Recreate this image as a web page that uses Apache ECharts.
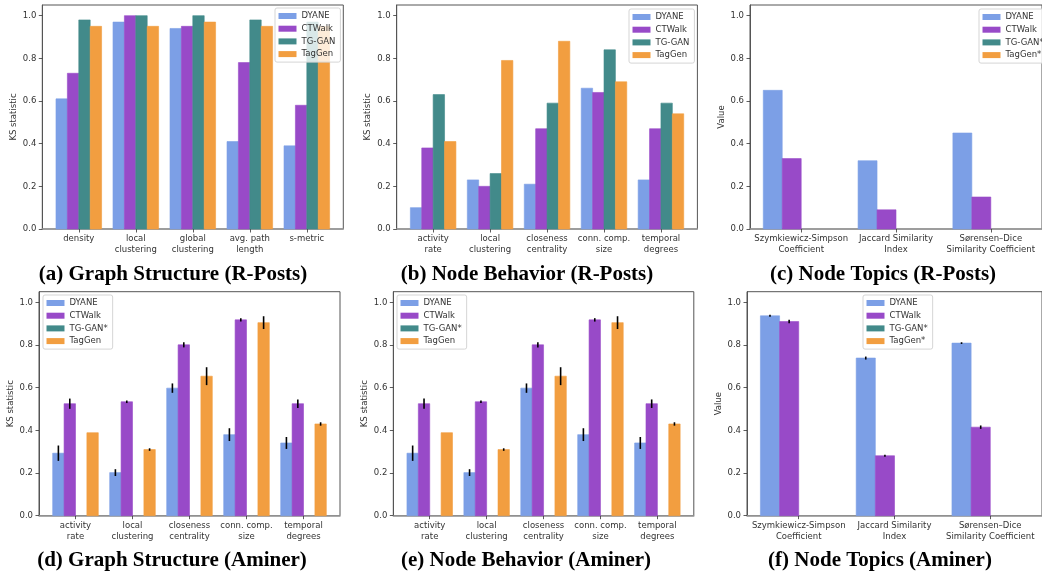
<!DOCTYPE html>
<html><head><meta charset="utf-8">
<script src="https://cdn.jsdelivr.net/npm/echarts@6/dist/echarts.min.js"></script>
<style>html,body{margin:0;padding:0;background:#fff}#c{width:1042px;height:577px}</style>
</head><body><div id="c"></div>
<script>
// ---------- data ----------
const catsA = ['density', 'local\nclustering', 'global\nclustering', 'avg. path\nlength', 's-metric'];
const catsB = ['activity\nrate', 'local\nclustering', 'closeness\ncentrality', 'conn. comp.\nsize', 'temporal\ndegrees'];
const catsC = ['Szymkiewicz-Simpson\nCoefficient', 'Jaccard Similarity\nIndex', 'Sørensen–Dice\nSimilarity Coefficient'];
const yTicks = [0, 0.2, 0.4, 0.6, 0.8, 1.0];

const namesA = ['DYANE', 'CTWalk', 'TG-GAN', 'TagGen'];
const namesC = ['DYANE', 'CTWalk', 'TG-GAN*', 'TagGen*'];
const namesD = ['DYANE', 'CTWalk', 'TG-GAN*', 'TagGen'];

// (a) Graph Structure (R-Posts)
const aDYANE  = [0.61, 0.97, 0.94, 0.41, 0.39];
const aCTWalk = [0.73, 1.00, 0.95, 0.78, 0.58];
const aTGGAN  = [0.98, 1.00, 1.00, 0.98, 0.97];
const aTagGen = [0.95, 0.95, 0.97, 0.95, 0.95];
// (b) Node Behavior (R-Posts)
const bDYANE  = [0.10, 0.23, 0.21, 0.66, 0.23];
const bCTWalk = [0.38, 0.20, 0.47, 0.64, 0.47];
const bTGGAN  = [0.63, 0.26, 0.59, 0.84, 0.59];
const bTagGen = [0.41, 0.79, 0.88, 0.69, 0.54];
// (c) Node Topics (R-Posts)
const cDYANE  = [0.65, 0.32, 0.45];
const cCTWalk = [0.33, 0.09, 0.15];
const cTGGAN  = [0, 0, 0];
const cTagGen = [0, 0, 0];
// (d) Graph Structure (Aminer)
const dDYANE     = [0.293, 0.202, 0.598, 0.380, 0.341];
const dDYANEErr  = [0.036, 0.016, 0.022, 0.030, 0.028];
const dCTWalk    = [0.525, 0.534, 0.801, 0.918, 0.525];
const dCTWalkErr = [0.024, 0.006, 0.012, 0.008, 0.020];
const dTGGAN     = [0, 0, 0, 0, 0];
const dTagGen    = [0.389, 0.310, 0.654, 0.905, 0.430];
const dTagGenErr = [0, 0.006, 0.042, 0.030, 0.008];
// (e) Node Behavior (Aminer)
const eDYANE     = [0.293, 0.202, 0.598, 0.380, 0.341];
const eDYANEErr  = [0.036, 0.016, 0.022, 0.030, 0.028];
const eCTWalk    = [0.525, 0.534, 0.801, 0.918, 0.525];
const eCTWalkErr = [0.024, 0.006, 0.012, 0.008, 0.020];
const eTGGAN     = [0, 0, 0, 0, 0];
const eTagGen    = [0.389, 0.310, 0.654, 0.905, 0.430];
const eTagGenErr = [0, 0.006, 0.042, 0.030, 0.008];
// (f) Node Topics (Aminer)
const fDYANE     = [0.937, 0.739, 0.809];
const fDYANEErr  = [0.005, 0.007, 0.004];
const fCTWalk    = [0.910, 0.281, 0.415];
const fCTWalkErr = [0.008, 0.005, 0.008];
const fTGGAN     = [0, 0, 0];
const fTagGen    = [0, 0, 0];

// ---------- styling ----------
const COLORS = ['#7c9fe6', '#984ac8', '#428a8a', '#f29e40'];
const FONT = 'DejaVu Sans';

const panels = [
  {cats: catsA, names: namesA, yName: 'KS statistic', vals: [aDYANE, aCTWalk, aTGGAN, aTagGen], errs: [null, null, null, null],
   grid: {left: 42.3, top: 5, width: 301, height: 224}, legend: {left: 275, top: 8},
   caption: '(a) Graph Structure (R-Posts)', cap: [173, 275]},
  {cats: catsB, names: namesA, yName: 'KS statistic', vals: [bDYANE, bCTWalk, bTGGAN, bTagGen], errs: [null, null, null, null],
   grid: {left: 396.7, top: 5, width: 300.7, height: 224}, legend: {left: 629, top: 9},
   caption: '(b) Node Behavior (R-Posts)', cap: [527, 275]},
  {cats: catsC, names: namesC, yName: 'Value', vals: [cDYANE, cCTWalk, cTGGAN, cTagGen], errs: [null, null, null, null],
   grid: {left: 750, top: 5, width: 300, height: 224}, legend: {left: 979, top: 9},
   caption: '(c) Node Topics (R-Posts)', cap: [883, 275]},
  {cats: catsB, names: namesD, yName: 'KS statistic', vals: [dDYANE, dCTWalk, dTGGAN, dTagGen], errs: [dDYANEErr, dCTWalkErr, null, dTagGenErr],
   grid: {left: 39, top: 291.7, width: 301, height: 224}, legend: {left: 43, top: 295},
   caption: '(d) Graph Structure (Aminer)', cap: [172, 561]},
  {cats: catsB, names: namesD, yName: 'KS statistic', vals: [eDYANE, eCTWalk, eTGGAN, eTagGen], errs: [eDYANEErr, eCTWalkErr, null, eTagGenErr],
   grid: {left: 393.3, top: 291.7, width: 300.5, height: 224}, legend: {left: 397, top: 295},
   caption: '(e) Node Behavior (Aminer)', cap: [526, 561]},
  {cats: catsC, names: namesC, yName: 'Value', vals: [fDYANE, fCTWalk, fTGGAN, fTagGen], errs: [fDYANEErr, fCTWalkErr, null, null],
   grid: {left: 747, top: 291.7, width: 300.5, height: 224}, legend: {left: 863, top: 295},
   caption: '(f) Node Topics (Aminer)', cap: [880, 561]}
];

function makeRender(k) {
  return function (params, api) {
    const ci = api.value(0), v = api.value(1), e = api.value(2);
    const off = (k - 1.5) * 0.2;
    const p0 = api.coord([ci + off - 0.1, v]);
    const p1 = api.coord([ci + off + 0.1, 0]);
    const children = [];
    if (v > 0) {
      children.push({type: 'rect',
        shape: {x: p0[0], y: p0[1], width: p1[0] - p0[0], height: p1[1] - p0[1]},
        style: {fill: api.visual('color'), stroke: api.visual('color'), lineWidth: 0.6, opacity: 1}});
    }
    if (e > 0) {
      const t = api.coord([ci + off, v + e]), b = api.coord([ci + off, v - e]);
      children.push({type: 'line', shape: {x1: t[0], y1: t[1], x2: b[0], y2: b[1]},
        style: {stroke: '#000', lineWidth: 1.6}, z2: 10});
    }
    return {type: 'group', children};
  };
}

const grids = [], xAxes = [], yAxes = [], series = [], legends = [], graphics = [];
panels.forEach((p, i) => {
  const n = p.cats.length;
  const half = (n - 1 + 0.8) * 0.05 + 0.4; // matplotlib 5% margins
  const idx = p.cats.map((_, j) => j);
  grids.push(Object.assign({show: true, borderColor: '#555', borderWidth: 1, containLabel: false}, p.grid));
  xAxes.push({
    gridIndex: i, type: 'value', min: -half, max: n - 1 + half,
    axisLine: {show: true, onZero: false, lineStyle: {color: '#999', width: 1.5}},
    axisTick: {show: true, customValues: idx, length: 3.5, lineStyle: {color: '#333', width: 0.8}},
    axisLabel: {customValues: idx, formatter: v => p.cats[Math.round(v)], fontFamily: FONT, fontSize: 8.5,
      color: '#333', lineHeight: 10.5, margin: 5},
    splitLine: {show: false}
  });
  yAxes.push({
    gridIndex: i, type: 'value', min: 0, max: 1.05,
    axisLine: {show: true, onZero: false, lineStyle: {color: '#555', width: 1}},
    axisTick: {show: true, customValues: yTicks, length: 3.5, lineStyle: {color: '#333', width: 0.8}},
    axisLabel: {customValues: yTicks, formatter: v => v.toFixed(1), fontFamily: FONT, fontSize: 8.5, color: '#333', margin: 6},
    splitLine: {show: false},
    name: p.yName, nameLocation: 'middle', nameGap: 24,
    nameTextStyle: {fontFamily: FONT, fontSize: 8.5, color: '#333'}
  });
  p.names.forEach((nm, k) => {
    const errs = p.errs[k];
    series.push({
      type: 'custom', name: nm, xAxisIndex: i, yAxisIndex: i,
      itemStyle: {color: COLORS[k]},
      renderItem: makeRender(k),
      encode: {x: 0, y: 1},
      data: p.vals[k].map((v, j) => [j, v, errs ? errs[j] : 0])
    });
  });
  legends.push({
    data: p.names, orient: 'vertical', left: p.legend.left, top: p.legend.top,
    icon: 'rect', itemWidth: 18, itemHeight: 6, itemGap: 2.7,
    padding: [3, 5, 3, 3.5], borderColor: '#d5d5d5', borderWidth: 1, borderRadius: 2,
    backgroundColor: 'rgba(255,255,255,0.8)',
    textStyle: {fontFamily: FONT, fontSize: 8.5, color: '#333', lineHeight: 10},
    selectedMode: false
  });
  graphics.push({
    type: 'text', x: p.cap[0], y: p.cap[1],
    style: {text: p.caption, font: 'bold 21px "Liberation Serif"', fill: '#000',
      textAlign: 'center', textVerticalAlign: 'middle'}
  });
});

const chart = echarts.init(document.getElementById('c'), null, {renderer: 'canvas'});
chart.setOption({
  animation: false,
  backgroundColor: '#fff',
  grid: grids, xAxis: xAxes, yAxis: yAxes, series: series, legend: legends,
  graphic: graphics
});
</script>
</body></html>
